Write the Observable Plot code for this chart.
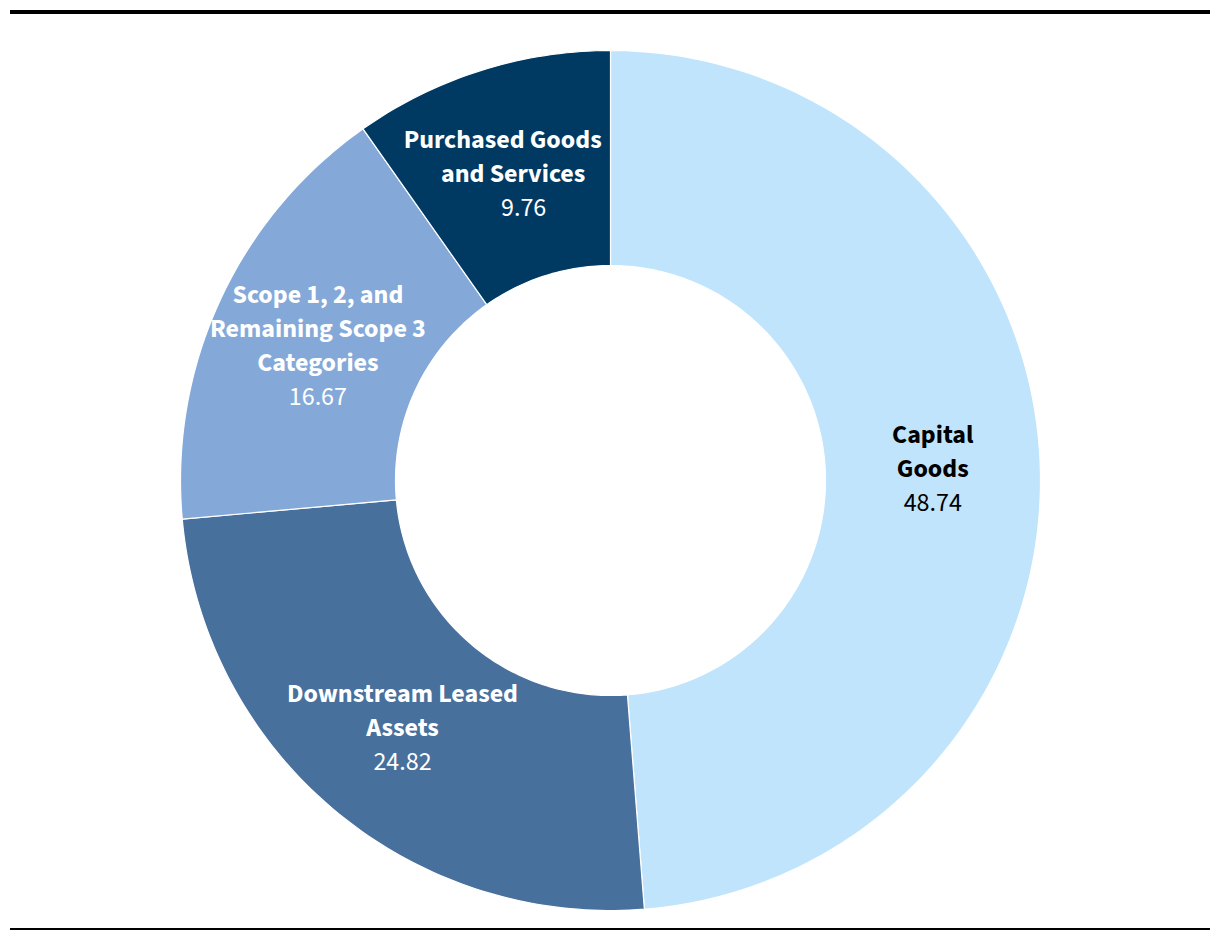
<!DOCTYPE html>
<html>
<head>
<meta charset="utf-8">
<script src="https://cdn.jsdelivr.net/npm/d3@7"></script>
<script src="https://cdn.jsdelivr.net/npm/@observablehq/plot@0.6"></script>
<style>
  html, body { margin: 0; padding: 0; background: #fff; }
  #wrap { width: 1220px; padding-top: 10px; }
  .rule-top { height: 4px; background: #000; margin: 0 10px; }
  .rule-bottom { height: 2px; background: #000; margin: 0 10px; }
  #chart svg { display: block; }
</style>
</head>
<body>
<div id="wrap">
  <div class="rule-top"></div>
  <div id="chart"></div>
  <div class="rule-bottom"></div>
</div>
<script>
// ---- data ----
const categories = ["Capital Goods", "Downstream Leased Assets", "Scope 1, 2, and Remaining Scope 3 Categories", "Purchased Goods and Services"];
const values = [48.74, 24.82, 16.67, 9.76];
const labelLines = [["Capital", "Goods"], ["Downstream Leased", "Assets"], ["Scope 1, 2, and", "Remaining Scope 3", "Categories"], ["Purchased Goods", "and Services"]];

// ---- styles / layout ----
const sliceColors = ["#c0e4fc", "#48709c", "#84a9d9", "#003a63"];
const labelColors = ["#000000", "#ffffff", "#ffffff", "#ffffff"];
const labelShear = [0, 0, 0, 10.5];   // px per line (label nudged to fit the thin slice)
const outerR = 1, innerR = 0.5;
const W = 1220, H = 914, mL = 180, mR = 180, mT = 36, mB = 18;
const pxPerUnit = (W - mL - mR) / 2;
const fs = 26, linePx = 34;

const rows = categories.map((c, i) => ({category: c, value: values[i], i}));
const pie = d3.pie().sort(null).value(d => d.value).startAngle(0).endAngle(2 * Math.PI)(rows);

// polygon outlines of each ring segment from the pie angles
const arcPoints = [];
for (const p of pie) {
  const steps = Math.max(8, Math.ceil((p.endAngle - p.startAngle) / (Math.PI / 180)));
  const outer = d3.range(steps + 1).map(k => p.startAngle + (p.endAngle - p.startAngle) * k / steps);
  for (const a of outer) arcPoints.push({category: p.data.category, x: outerR * Math.sin(a), y: outerR * Math.cos(a)});
  for (const a of outer.slice().reverse()) arcPoints.push({category: p.data.category, x: innerR * Math.sin(a), y: innerR * Math.cos(a)});
}

// one text datum per label line, stacked around the ring-segment centroid
const labelRows = [];
for (const p of pie) {
  const a = (p.startAngle + p.endAngle) / 2;
  const r = (outerR + innerR) / 2;
  const cx = r * Math.sin(a), cy = r * Math.cos(a);
  const i = p.data.i;
  const lines = labelLines[i].map(t => ({text: t, bold: true}))
    .concat([{text: d3.format(".2f")(p.data.value), bold: false}]);
  const mid = (lines.length - 1) / 2;
  lines.forEach((l, k) => {
    labelRows.push({
      x: cx + (k - mid) * labelShear[i] / pxPerUnit,
      y: cy - (k - mid) * linePx / pxPerUnit,
      text: l.text, bold: l.bold, color: labelColors[i]
    });
  });
}

const fontFamily = "'Source Sans Pro', 'Source Sans 3', Lato, 'Noto Sans', sans-serif";

const chart = Plot.plot({
  width: W,
  height: H,
  marginLeft: mL,
  marginRight: mR,
  marginTop: mT,
  marginBottom: mB,
  x: {domain: [-1, 1], axis: null},
  y: {domain: [-1, 1], axis: null},
  color: {domain: categories, range: sliceColors},
  style: {fontFamily, background: "white"},
  marks: [
    Plot.line(arcPoints, {x: "x", y: "y", z: "category", fill: "category", stroke: "white", strokeWidth: 1.2, curve: "linear-closed"}),
    Plot.text(labelRows.filter(d => d.bold), {x: "x", y: "y", text: "text", fill: "color", fontSize: fs, fontWeight: "bold", dy: 1}),
    Plot.text(labelRows.filter(d => !d.bold), {x: "x", y: "y", text: "text", fill: "color", fontSize: fs, fontWeight: "normal", dy: 1})
  ]
});
document.getElementById("chart").appendChild(chart);
</script>
</body>
</html>
